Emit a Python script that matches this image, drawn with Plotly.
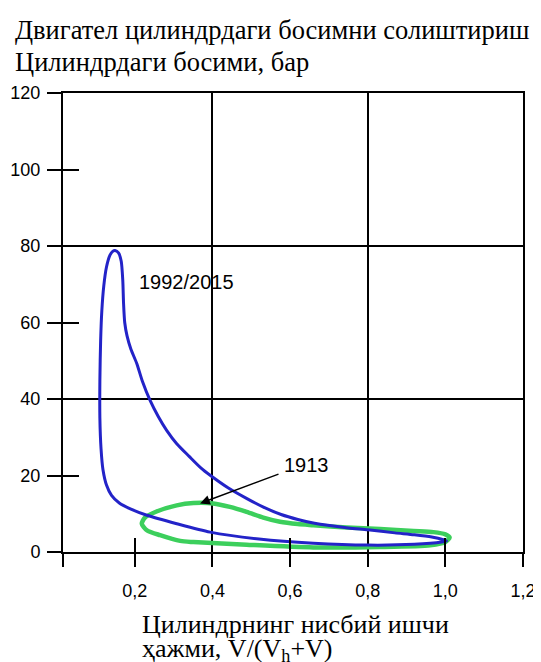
import plotly.graph_objects as go

# ---- text ----
title_lines = ["Двигател цилиндрдаги босимни солиштириш", "Цилиндрдаги босими, бар"]
xtitle_lines = ["Цилиндрнинг нисбий ишчи", "ҳажми, V/(V<sub>h</sub>+V)"]
series_names = ["1992/2015", "1913"]

# ---- axes ----
x_range = [0.015, 1.2]
y_range = [0, 120]
x_ticks = [0.015, 0.2, 0.4, 0.6, 0.8, 1.0, 1.2]
x_ticktext = ["", "0,2", "0,4", "0,6", "0,8", "1,0", "1,2"]
y_ticks = [0, 20, 40, 60, 80, 100, 120]
x_cross = [0.2, 0.6, 1.0]
y_cross = [20, 60, 100]
x_grid = [0.4, 0.8]
y_grid = [40, 80]

# ---- data: 1992/2015 loop (blue) ----
modern_x = [0.149, 0.158, 0.165, 0.169, 0.171, 0.174, 0.180, 0.190, 0.205, 0.220, 0.239, 0.260,
            0.282, 0.308, 0.340, 0.370, 0.395, 0.440, 0.490, 0.530, 0.577, 0.620, 0.663, 0.750,
            0.800, 0.870, 0.920, 0.965, 0.995, 1.003,
            0.990, 0.920, 0.800, 0.660, 0.520, 0.394, 0.308, 0.231, 0.190, 0.160, 0.140, 0.127,
            0.118, 0.113, 0.110, 0.110, 0.112, 0.115, 0.120, 0.127, 0.136, 0.143, 0.149]
modern_y = [78.8, 78.2, 76.0, 71.0, 65.0, 60.0, 56.5, 53.0, 49.3, 44.5, 39.7, 35.5,
            31.8, 28.3, 25.0, 22.0, 20.0, 16.8, 13.9, 11.8, 9.8, 8.5, 7.5, 6.3,
            5.8, 5.0, 4.5, 3.9, 3.2, 2.9,
            2.6, 2.0, 1.8, 2.3, 3.4, 5.2, 7.4, 9.6, 11.2, 12.8, 14.8, 17.5,
            21.5, 27.0, 35.0, 45.0, 55.4, 63.0, 69.5, 74.5, 77.6, 78.6, 78.8]

# ---- data: 1913 loop (green) ----
old_x = [0.218, 0.226, 0.256, 0.308, 0.351, 0.402, 0.445, 0.488, 0.531, 0.574, 0.620, 0.660,
         0.746, 0.832, 0.918, 0.969, 1.000, 1.011, 1.000, 0.961, 0.832, 0.660, 0.488, 0.351,
         0.317, 0.265, 0.231, 0.218]
old_y = [7.4, 9.0, 10.6, 12.2, 12.8, 12.7, 11.8, 10.5, 9.0, 7.9, 7.3, 7.0,
         6.4, 6.0, 5.5, 5.2, 4.6, 3.8, 2.6, 1.75, 1.3, 1.2, 1.9, 2.6,
         2.9, 4.4, 5.7, 7.4]

# annotation anchors
label_modern = (0.206, 70.6)
label_old = (0.579, 22.7)
arrow_head = (0.368, 12.7)
arrow_tail = (0.574, 20.5)

BLUE = "#2323c8"
GREEN = "#3ccf5c"
SANS = "Liberation Sans, Arial, sans-serif"
SERIF = "Liberation Serif, Times New Roman, serif"

fig = go.Figure()
fig.add_trace(go.Scatter(x=old_x, y=old_y, mode="lines",
                         line=dict(color=GREEN, width=4.5, shape="spline", smoothing=0.7),
                         name=series_names[1], showlegend=False, hoverinfo="skip"))
fig.add_trace(go.Scatter(x=modern_x, y=modern_y, mode="lines",
                         line=dict(color=BLUE, width=3, shape="spline", smoothing=0.7),
                         name=series_names[0], showlegend=False, hoverinfo="skip"))
for ax in ("2", "3"):
    fig.add_trace(go.Scatter(x=[None], y=[None], xaxis="x" + ax, yaxis="y" + ax,
                             showlegend=False, hoverinfo="skip"))

common_x = dict(range=x_range, zeroline=False, showgrid=False, automargin=False)
common_y = dict(range=y_range, zeroline=False, showgrid=False, automargin=False)

fig.update_layout(
    width=533, height=654,
    margin=dict(l=55, r=18, t=85, b=110, autoexpand=False),
    paper_bgcolor="white", plot_bgcolor="white",
    xaxis=dict(**common_x, tickmode="array", tickvals=x_ticks, ticktext=x_ticktext,
               ticks="outside", ticklen=13, tickwidth=2, tickcolor="black", ticklabelstandoff=8,
               showline=True, linewidth=2, linecolor="black", mirror=True,
               tickfont=dict(family=SANS, size=18, color="black")),
    yaxis=dict(**common_y, tickmode="array", tickvals=y_ticks,
               ticks="outside", ticklen=14, tickwidth=2, tickcolor="black", ticklabelstandoff=3,
               showline=True, linewidth=2, linecolor="black", mirror=True,
               tickfont=dict(family=SANS, size=18, color="black")),
    xaxis2=dict(**common_x, overlaying="x", anchor="y", tickmode="array", tickvals=x_cross,
                ticks="inside", ticklen=14, tickwidth=2, tickcolor="black",
                showticklabels=False, showline=False),
    yaxis2=dict(**common_y, overlaying="y", anchor="x", tickmode="array", tickvals=y_cross,
                ticks="inside", ticklen=16, tickwidth=2, tickcolor="black",
                showticklabels=False, showline=False),
    xaxis3=dict(range=x_range, zeroline=False, automargin=False, overlaying="x", anchor="y",
                tickmode="array", tickvals=x_grid, showgrid=True, gridcolor="black", gridwidth=2,
                ticks="", showticklabels=False, showline=False),
    yaxis3=dict(range=y_range, zeroline=False, automargin=False, overlaying="y", anchor="x",
                tickmode="array", tickvals=y_grid, showgrid=True, gridcolor="black", gridwidth=2,
                ticks="", showticklabels=False, showline=False),
)

annos = [
    dict(text=title_lines[0], xref="paper", yref="paper", x=-0.1087, y=1.137,
         xanchor="left", yanchor="middle", showarrow=False,
         font=dict(family=SERIF, size=26.5, color="black")),
    dict(text=title_lines[1], xref="paper", yref="paper", x=-0.1087, y=1.068,
         xanchor="left", yanchor="middle", showarrow=False,
         font=dict(family=SERIF, size=26.5, color="black")),
    dict(text=xtitle_lines[0], xref="paper", yref="paper", x=0.167, y=-0.1576,
         xanchor="left", yanchor="middle", showarrow=False,
         font=dict(family=SERIF, size=26, color="black")),
    dict(text=xtitle_lines[1], xref="paper", yref="paper", x=0.167, y=-0.2143,
         xanchor="left", yanchor="middle", showarrow=False,
         font=dict(family=SERIF, size=26, color="black")),
    dict(text=series_names[0], x=label_modern[0], y=label_modern[1],
         xanchor="left", yanchor="middle", showarrow=False,
         font=dict(family=SANS, size=20, color="black")),
    dict(text=series_names[1], x=label_old[0], y=label_old[1],
         xanchor="left", yanchor="middle", showarrow=False,
         font=dict(family=SANS, size=20, color="black")),
    dict(text="", x=arrow_head[0], y=arrow_head[1], ax=arrow_tail[0], ay=arrow_tail[1],
         axref="x", ayref="y", showarrow=True, arrowhead=2, arrowsize=1.3,
         arrowwidth=1.5, arrowcolor="black"),
]
fig.update_layout(annotations=annos)

fig.write_html("out.html")
